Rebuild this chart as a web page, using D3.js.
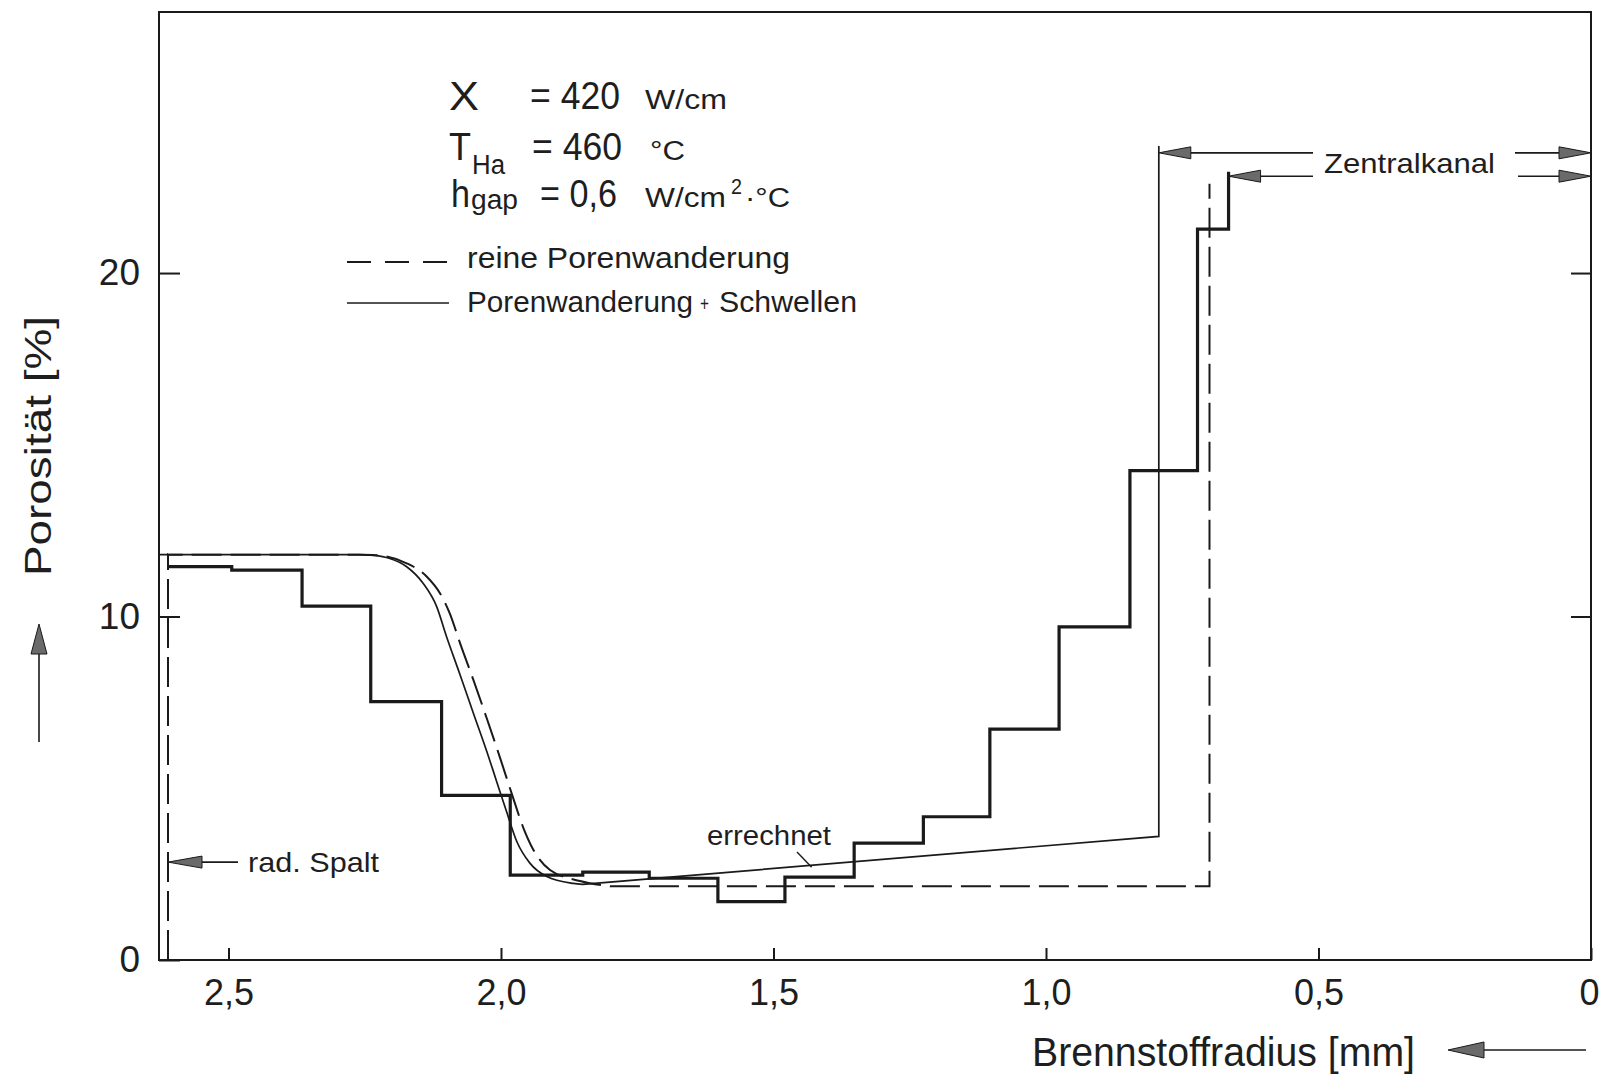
<!DOCTYPE html>
<html>
<head>
<meta charset="utf-8">
<script src="https://cdnjs.cloudflare.com/ajax/libs/d3/7.8.5/d3.min.js"></script>
<style>
body { margin: 0; background: #fff; }
text { font-family: "Liberation Sans", Arial, sans-serif; fill: #1e1e1e; }
</style>
</head>
<body>
<div id="chart"></div>
<script>
// radius in mm (axis runs from the surface to the centre), porosity in %
var xTicks = [2.5, 2.0, 1.5, 1.0, 0.5, 0];
var yTicks = [0, 10, 20];

// measured porosity, histogram steps (left edge of each step + level)
var stepRadius = [2.611, 2.494, 2.365, 2.239, 2.109, 1.983, 1.85, 1.728, 1.602, 1.479, 1.352, 1.225, 1.103, 0.976, 0.846, 0.722, 0.665];
var stepPorosity = [11.45, 11.35, 10.3, 7.52, 4.79, 2.47, 2.56, 2.38, 1.70, 2.41, 3.40, 4.17, 6.72, 9.70, 14.25, 21.28, 22.95];

// errechnet: Porenwanderung + Schwellen (solid)
var swellRadius = [2.6275, 2.26, 2.234, 2.204, 2.173, 2.143, 2.118, 2.100, 2.075, 2.051, 2.026, 2.008, 1.990, 1.971, 1.947, 1.916, 1.867, 1.85, 0.793, 0.793];
var swellPorosity = [11.8, 11.8, 11.78, 11.69, 11.45, 10.97, 10.29, 9.42, 8.30, 7.20, 6.07, 5.20, 4.33, 3.45, 2.82, 2.43, 2.23, 2.2, 3.6, 23.7];
var swellCurved = [0, 17];   // index range drawn smooth

// reine Porenwanderung (dashed)
var pureRadius = [2.611, 2.611, 2.26, 2.234, 2.173, 2.136, 2.112, 2.094, 2.075, 2.051, 2.026, 2.002, 1.980, 1.959, 1.941, 1.910, 1.855, 1.80, 0.700, 0.700];
var purePorosity = [0, 11.8, 11.8, 11.79, 11.55, 11.16, 10.68, 10.09, 9.22, 8.17, 7.03, 5.90, 4.83, 3.85, 3.22, 2.62, 2.30, 2.15, 2.15, 22.6];
var pureCurved = [1, 17];

// annotation anchors
var gapArrow = {r: 2.611, p: 2.85};
var channelArrows = [{r: 0.793, p: 23.5}, {r: 0.665, p: 22.82}];
var calcPointer = {r: 1.43, p: 2.7};

var margin = {top: 12, right: 8, bottom: 115, left: 159},
    width = 1599 - margin.left - margin.right,
    height = 1075 - margin.top - margin.bottom,
    ink = "#1a1a1a";

var svg = d3.select("#chart").append("svg").attr("width", 1599).attr("height", 1075);
var g = svg.append("g").attr("transform", "translate(" + margin.left + "," + margin.top + ")");

var x = d3.scaleLinear().domain([2.6275, 0]).range([0, width]);
var y = d3.scaleLinear().domain([0, 27.6]).range([height, 0]);

var commaFormat = function(d) {
    return d === 0 ? "0" : d3.format(".1f")(d).replace(".", ",");
};

function styleAxis(sel, size) {
    sel.attr("font-family", null).attr("font-size", null);
    sel.select(".domain").remove();
    sel.selectAll("line").attr("stroke", ink).attr("stroke-width", 2);
    sel.selectAll("text").style("font-size", size + "px").attr("fill", "#1e1e1e");
}

var xAxisG = g.append("g").attr("transform", "translate(0," + height + ")")
    .call(d3.axisBottom(x).tickValues(xTicks).tickSize(-12).tickPadding(19).tickFormat(commaFormat))
    .call(styleAxis, 36);
// the last label sits flush against the right edge
xAxisG.selectAll("text").filter(function(d) { return d === 0; })
    .attr("text-anchor", "end").attr("x", 8);

g.append("g")
    .call(d3.axisLeft(y).tickValues(yTicks).tickSize(-21).tickPadding(19).tickFormat(d3.format("d")))
    .call(styleAxis, 37);

g.append("g").attr("transform", "translate(" + width + ",0)")
    .call(d3.axisRight(y).tickValues([10, 20]).tickSize(-20).tickFormat(""))
    .call(styleAxis, 10);

g.append("rect").attr("width", width).attr("height", height)
    .attr("fill", "none").attr("stroke", ink).attr("stroke-width", 2);

// straight segments with a smooth (monotone) middle part
function mixedPath(r, p, range) {
    var pts = r.map(function(v, i) { return [x(v), y(p[i])]; });
    var lin = function(a) { return a.map(function(q) { return q[0] + "," + q[1]; }).join("L"); };
    var d = "M" + lin(pts.slice(0, range[0] + 1));
    d += d3.line().curve(d3.curveMonotoneX)(pts.slice(range[0], range[1] + 1)).replace(/^M/, "L");
    if (range[1] < pts.length - 1) d += "L" + lin(pts.slice(range[1]));
    return d;
}

g.append("path").attr("d", mixedPath(pureRadius, purePorosity, pureCurved))
    .attr("fill", "none").attr("stroke", ink).attr("stroke-width", 2)
    .attr("stroke-dasharray", "30,9");

g.append("path").attr("d", mixedPath(swellRadius, swellPorosity, swellCurved))
    .attr("fill", "none").attr("stroke", ink).attr("stroke-width", 1.7);

var stepLine = d3.line().x(function(d) { return x(d[0]); }).y(function(d) { return y(d[1]); })
    .curve(d3.curveStepAfter);
g.append("path").datum(d3.zip(stepRadius, stepPorosity)).attr("d", stepLine)
    .attr("fill", "none").attr("stroke", ink).attr("stroke-width", 3.2)
    .attr("stroke-linejoin", "miter");

// arrow: line from (x1,y1) to tip (x2,y2), gray filled head
function arrow(parent, x1, y1, x2, y2, len, half) {
    var dx = x2 - x1, dy = y2 - y1, l = Math.sqrt(dx * dx + dy * dy),
        ux = dx / l, uy = dy / l, bx = x2 - ux * len, by = y2 - uy * len;
    parent.append("line").attr("x1", x1).attr("y1", y1).attr("x2", bx).attr("y2", by)
        .attr("stroke", ink).attr("stroke-width", 1.6);
    parent.append("path")
        .attr("d", "M" + x2 + "," + y2 + "L" + (bx - uy * half) + "," + (by + ux * half) +
            "L" + (bx + uy * half) + "," + (by - ux * half) + "Z")
        .attr("fill", "#6a6a6a").attr("stroke", ink).attr("stroke-width", 1);
}

function label(txt, px, py, size, len) {
    var t = svg.append("text").attr("x", px).attr("y", py).style("font-size", size + "px").text(txt);
    if (len) t.attr("textLength", len).attr("lengthAdjust", "spacingAndGlyphs");
    return t;
}

// parameter block
label("\u03A7", 449, 110, 40, 30);
label("= 420", 530, 109, 38, 90);
label("W/cm", 645, 109, 27, 82);
label("T", 449, 160, 38, 22);
label("Ha", 472, 174, 27, 33);
label("= 460", 532, 160, 38, 90);
label("\u00B0C", 650, 160, 27, 35);
label("h", 451, 207, 38, 19);
label("gap", 471, 209, 27, 47);
label("= 0,6", 540, 207, 38, 77);
label("W/cm", 645, 207, 27, 81);
label("2", 731, 194, 22, 11);
label("\u00B7\u00B0C", 745, 207, 27, 45);

// legend
svg.append("line").attr("x1", 347).attr("x2", 449).attr("y1", 262).attr("y2", 262)
    .attr("stroke", ink).attr("stroke-width", 2).attr("stroke-dasharray", "24,14");
label("reine Porenwanderung", 467, 268, 30, 323);
svg.append("line").attr("x1", 347).attr("x2", 449).attr("y1", 303).attr("y2", 303)
    .attr("stroke", ink).attr("stroke-width", 1.7);
label("Porenwanderung", 467, 312, 30, 226);
label("+", 700, 311, 20, 9);
label("Schwellen", 719, 312, 30, 138);

// annotations inside the plot
var ann = g.append("g");
arrow(ann, 238 - margin.left, y(gapArrow.p), x(gapArrow.r), y(gapArrow.p), 34, 6);
label("rad. Spalt", 248, 872, 28, 131);

label("errechnet", 707, 845, 27, 124);
ann.append("line").attr("x1", 797 - margin.left).attr("y1", 852 - margin.top)
    .attr("x2", x(calcPointer.r)).attr("y2", y(calcPointer.p))
    .attr("stroke", ink).attr("stroke-width", 1.4);

label("Zentralkanal", 1324, 173, 28, 171);
arrow(ann, 1313 - margin.left, y(channelArrows[0].p), x(channelArrows[0].r), y(channelArrows[0].p), 32, 6);
arrow(ann, 1313 - margin.left, y(channelArrows[1].p), x(channelArrows[1].r), y(channelArrows[1].p), 32, 6);
arrow(ann, 1515 - margin.left, y(channelArrows[0].p), x(0), y(channelArrows[0].p), 32, 6);
arrow(ann, 1518 - margin.left, y(channelArrows[1].p), x(0), y(channelArrows[1].p), 32, 6);

// axis titles
svg.append("text").attr("transform", "translate(51,446) rotate(-90)")
    .attr("text-anchor", "middle").style("font-size", "36px")
    .attr("textLength", 260).attr("lengthAdjust", "spacingAndGlyphs")
    .text("Porosit\u00E4t  [%]");
arrow(svg, 39, 742, 39, 624, 30, 8);

label("Brennstoffradius  [mm]", 1032, 1066, 40, 383);
arrow(svg, 1586, 1050, 1448, 1050, 36, 8);
</script>
</body>
</html>
